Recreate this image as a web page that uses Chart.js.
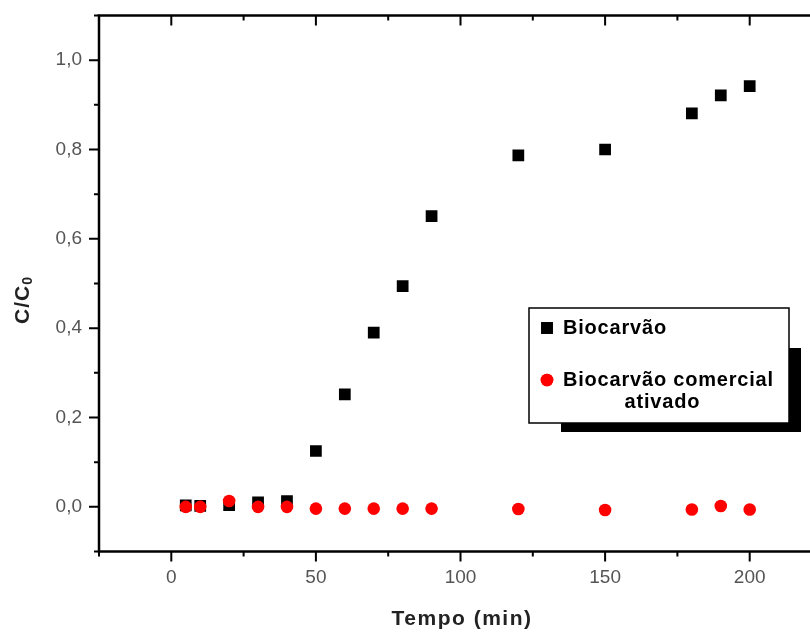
<!DOCTYPE html>
<html>
<head>
<meta charset="utf-8">
<title>C/C0 x Tempo</title>
<script src="https://cdn.jsdelivr.net/npm/chart.js@4.4.0/dist/chart.umd.min.js"></script>
<style>
  html, body { margin: 0; padding: 0; background: #fff; overflow: hidden; }
  canvas { display: block; }
</style>
</head>
<body>
<canvas id="breakthroughChart" width="840" height="634"></canvas>
<script>
// Tempo (min) and C/C0 for each adsorbent
const times = [5, 10, 20, 30, 40, 50, 60, 70, 80, 90, 120, 150, 180, 190, 200];
const biocarvao = [0.003, 0.002, 0.004, 0.010, 0.013, 0.125, 0.252, 0.390, 0.494, 0.651, 0.787, 0.800, 0.881, 0.921, 0.942];
const comercialAtivado = [0.000, 0.000, 0.013, 0.000, 0.000, -0.004, -0.004, -0.004, -0.004, -0.004, -0.005, -0.007, -0.006, 0.002, -0.006];
const seriesNames = ['Biocarvão', 'Biocarvão comercial\nativado'];

const FONT = 'Liberation Sans, Arial, sans-serif';

function toPoints(values) {
    return times.map((t, i) => ({ x: t, y: values[i] }));
}

// box frame with Origin-style ticks: outward on bottom/left, inward on top/right
const framePlugin = {
    id: 'frame',
    beforeDatasetsDraw(chart) {
        const { ctx, chartArea: a, scales } = chart;
        ctx.save();
        ctx.strokeStyle = '#000';
        ctx.lineWidth = 2;
        ctx.lineCap = 'butt';
        ctx.beginPath();
        scales.x.ticks.forEach(t => {
            const px = scales.x.getPixelForValue(t.value);
            const len = t.value % 50 === 0 ? 10 : 5;
            ctx.moveTo(px, a.bottom); ctx.lineTo(px, a.bottom + len);
            ctx.moveTo(px, a.top); ctx.lineTo(px, a.top + len);
        });
        scales.y.ticks.forEach(t => {
            const py = scales.y.getPixelForValue(t.value);
            const len = Math.round(t.value * 10) % 2 === 0 ? 10 : 5;
            ctx.moveTo(a.left - len, py); ctx.lineTo(a.left, py);
            ctx.moveTo(a.right, py); ctx.lineTo(a.right - len, py);
        });
        ctx.stroke();
        ctx.lineWidth = 2.5;
        ctx.strokeRect(a.left, a.top, a.right - a.left, a.bottom - a.top);

        // axis titles
        ctx.fillStyle = '#222';
        ctx.font = 'bold 21px ' + FONT;
        ctx.letterSpacing = '1.5px';
        ctx.textAlign = 'center';
        ctx.textBaseline = 'middle';
        ctx.fillText('Tempo (min)', 462, 619);

        ctx.translate(23, 300);
        ctx.rotate(-Math.PI / 2);
        ctx.letterSpacing = '1px';
        ctx.textAlign = 'left';
        const main = 'C/C';
        const w1 = ctx.measureText(main).width;
        ctx.font = 'bold 14px ' + FONT;
        const w2 = ctx.measureText('0').width;
        const x0 = -(w1 + w2) / 2;
        ctx.font = 'bold 21px ' + FONT;
        ctx.fillText(main, x0, 0);
        ctx.font = 'bold 14px ' + FONT;
        ctx.fillText('0', x0 + w1, 5);
        ctx.restore();
    }
};

// framed legend with a drop shadow
const boxLegend = {
    id: 'boxLegend',
    afterDatasetsDraw(chart) {
        const ctx = chart.ctx;
        const box = { left: 529, top: 308, right: 789, bottom: 423 };
        ctx.save();
        ctx.fillStyle = '#000';
        ctx.fillRect(box.left + 32, box.top + 40, box.right - box.left - 20, box.bottom - box.top - 31);
        ctx.fillStyle = '#fff';
        ctx.fillRect(box.left, box.top, box.right - box.left, box.bottom - box.top);
        ctx.lineWidth = 1.5;
        ctx.strokeStyle = '#000';
        ctx.strokeRect(box.left, box.top, box.right - box.left, box.bottom - box.top);

        const rows = [328, 380];
        ctx.font = 'bold 20px ' + FONT;
        ctx.letterSpacing = '0.8px';
        ctx.textBaseline = 'middle';
        chart.data.datasets.forEach((ds, i) => {
            const y = rows[i];
            ctx.fillStyle = ds.backgroundColor;
            ctx.strokeStyle = ds.borderColor;
            Chart.helpers.drawPoint(ctx, {
                pointStyle: ds.pointStyle, radius: ds.pointRadius, rotation: 0, borderWidth: 0
            }, 547, y);
            ctx.fill();
            ctx.fillStyle = '#000';
            const lines = ds.label.split('\n');
            ctx.textAlign = 'left';
            ctx.fillText(lines[0], 563, y);
            if (lines.length > 1) {
                const w = ctx.measureText(lines[0]).width;
                ctx.textAlign = 'center';
                ctx.fillText(lines[1], 563 + w / 2 - 6, y + 22);
            }
        });
        ctx.restore();
    }
};

const ctx = document.getElementById('breakthroughChart').getContext('2d');
new Chart(ctx, {
    type: 'scatter',
    data: {
        datasets: [{
            label: seriesNames[0],
            data: toPoints(biocarvao),
            pointStyle: 'rect',
            pointRadius: 8.3,
            pointHoverRadius: 8.3,
            backgroundColor: '#000000',
            borderColor: '#000000',
            borderWidth: 0,
            order: 2
        }, {
            label: seriesNames[1],
            data: toPoints(comercialAtivado),
            pointStyle: 'circle',
            pointRadius: 6.3,
            pointHoverRadius: 6.3,
            backgroundColor: '#ff0000',
            borderColor: '#ff0000',
            borderWidth: 0,
            order: 1
        }]
    },
    options: {
        responsive: false,
        animation: false,
        layout: { padding: { left: 0, right: 18, top: 15.5, bottom: 0 } },
        plugins: {
            legend: { display: false },
            tooltip: { enabled: false }
        },
        scales: {
            x: {
                type: 'linear',
                min: -25,
                max: 225,
                grid: { display: false, drawTicks: false },
                border: { display: false },
                ticks: {
                    stepSize: 25,
                    autoSkip: false,
                    maxRotation: 0,
                    padding: 15,
                    color: '#555',
                    font: { family: FONT, size: 19 },
                    callback: v => (v >= 0 && v % 50 === 0) ? String(v) : ''
                },
                afterFit(scale) {
                    scale.height = 82.5;
                    scale.paddingLeft = 0;
                    scale.paddingRight = 0;
                }
            },
            y: {
                type: 'linear',
                min: -0.1,
                max: 1.1,
                grid: { display: false, drawTicks: false },
                border: { display: false },
                ticks: {
                    stepSize: 0.1,
                    autoSkip: false,
                    padding: 17,
                    color: '#555',
                    font: { family: FONT, size: 19 },
                    callback: v => {
                        const k = Math.round(v * 10);
                        return (k >= 0 && k % 2 === 0) ? (k / 10).toFixed(1).replace('.', ',') : '';
                    }
                },
                afterFit(scale) {
                    scale.width = 99;
                    scale.paddingTop = 0;
                    scale.paddingBottom = 0;
                }
            }
        }
    },
    plugins: [framePlugin, boxLegend]
});
</script>
</body>
</html>
